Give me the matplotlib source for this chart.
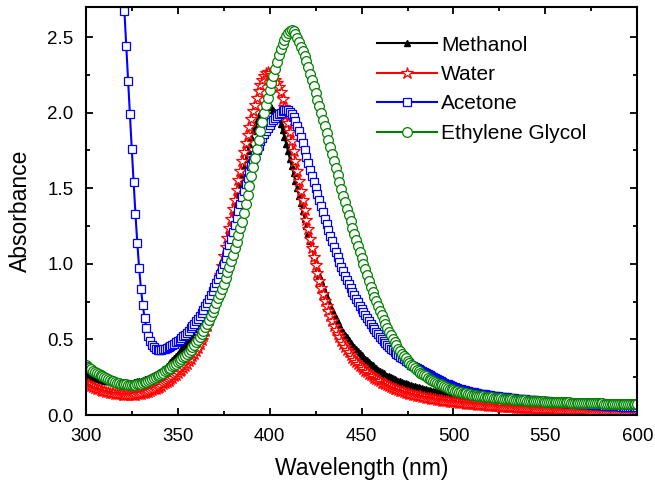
import matplotlib
matplotlib.use("Agg")
import matplotlib.pyplot as plt
from matplotlib.ticker import MultipleLocator
import numpy as np

plt.rcParams['font.family'] = ['Liberation Sans', 'DejaVu Sans']

# wavelength grid (nm), 1 nm steps
wl = np.arange(300, 601)
wl_acetone = np.arange(320, 601)

methanol = [
    0.265, 0.260, 0.256, 0.251, 0.247, 0.243, 0.240, 0.237, 0.234, 0.231,
    0.228, 0.226, 0.224, 0.222, 0.220, 0.218, 0.217, 0.216, 0.215, 0.214,
    0.213, 0.213, 0.213, 0.213, 0.214, 0.215, 0.217, 0.219, 0.222, 0.225,
    0.228, 0.232, 0.236, 0.240, 0.245, 0.250, 0.256, 0.262, 0.269, 0.277,
    0.285, 0.294, 0.303, 0.313, 0.324, 0.335, 0.348, 0.361, 0.375, 0.390,
    0.405, 0.421, 0.437, 0.454, 0.472, 0.490, 0.509, 0.528, 0.548, 0.569,
    0.590, 0.612, 0.635, 0.659, 0.684, 0.710, 0.737, 0.765, 0.795, 0.827,
    0.860, 0.899, 0.939, 0.981, 1.025, 1.070, 1.118, 1.167, 1.217, 1.268,
    1.320, 1.373, 1.427, 1.481, 1.535, 1.590, 1.643, 1.695, 1.745, 1.794,
    1.840, 1.880, 1.915, 1.948, 1.973, 1.995, 2.014, 2.030, 2.040, 2.045,
    2.043, 2.035, 2.021, 2.003, 1.985, 1.965, 1.928, 1.885, 1.840, 1.793,
    1.745, 1.696, 1.647, 1.598, 1.549, 1.500, 1.450, 1.400, 1.350, 1.300,
    1.250, 1.202, 1.154, 1.106, 1.058, 1.010, 0.967, 0.926, 0.887, 0.850,
    0.815, 0.783, 0.752, 0.722, 0.693, 0.665, 0.640, 0.616, 0.593, 0.571,
    0.550, 0.531, 0.513, 0.495, 0.478, 0.462, 0.448, 0.434, 0.421, 0.408,
    0.395, 0.383, 0.372, 0.361, 0.350, 0.340, 0.329, 0.319, 0.309, 0.299,
    0.290, 0.282, 0.275, 0.268, 0.261, 0.255, 0.249, 0.244, 0.238, 0.233,
    0.228, 0.223, 0.219, 0.214, 0.210, 0.205, 0.201, 0.197, 0.193, 0.190,
    0.186, 0.183, 0.180, 0.176, 0.173, 0.170, 0.167, 0.165, 0.162, 0.160,
    0.157, 0.155, 0.152, 0.150, 0.147, 0.145, 0.143, 0.141, 0.139, 0.137,
    0.135, 0.133, 0.131, 0.130, 0.128, 0.126, 0.124, 0.123, 0.121, 0.120,
    0.118, 0.117, 0.115, 0.114, 0.112, 0.111, 0.110, 0.108, 0.107, 0.105,
    0.104, 0.103, 0.102, 0.100, 0.099, 0.098, 0.097, 0.096, 0.095, 0.094,
    0.093, 0.092, 0.091, 0.090, 0.089, 0.088, 0.087, 0.086, 0.086, 0.085,
    0.084, 0.083, 0.082, 0.082, 0.081, 0.080, 0.079, 0.079, 0.078, 0.077,
    0.076, 0.076, 0.075, 0.074, 0.074, 0.073, 0.072, 0.072, 0.071, 0.071,
    0.070, 0.069, 0.069, 0.068, 0.068, 0.067, 0.067, 0.066, 0.066, 0.065,
    0.065, 0.064, 0.064, 0.063, 0.063, 0.062, 0.062, 0.061, 0.061, 0.060,
    0.060, 0.060, 0.059, 0.059, 0.058, 0.058, 0.058, 0.057, 0.057, 0.056,
    0.056, 0.056, 0.056, 0.055, 0.055, 0.055, 0.054, 0.054, 0.054, 0.053,
    0.053,
]

water = [
    0.210, 0.203, 0.197, 0.191, 0.185, 0.180, 0.175, 0.170, 0.166, 0.162,
    0.158, 0.155, 0.152, 0.149, 0.146, 0.143, 0.141, 0.139, 0.137, 0.136,
    0.135, 0.134, 0.133, 0.133, 0.133, 0.133, 0.134, 0.135, 0.136, 0.138,
    0.140, 0.143, 0.146, 0.150, 0.154, 0.158, 0.163, 0.169, 0.175, 0.181,
    0.188, 0.195, 0.203, 0.211, 0.219, 0.228, 0.237, 0.247, 0.257, 0.267,
    0.278, 0.289, 0.301, 0.313, 0.326, 0.340, 0.355, 0.371, 0.388, 0.406,
    0.425, 0.446, 0.469, 0.494, 0.523, 0.555, 0.591, 0.630, 0.671, 0.714,
    0.760, 0.814, 0.870, 0.928, 0.988, 1.050, 1.112, 1.174, 1.236, 1.298,
    1.360, 1.424, 1.488, 1.552, 1.616, 1.680, 1.740, 1.798, 1.854, 1.908,
    1.960, 2.008, 2.053, 2.100, 2.142, 2.180, 2.215, 2.245, 2.262, 2.268,
    2.262, 2.250, 2.235, 2.218, 2.198, 2.170, 2.135, 2.090, 2.040, 1.985,
    1.930, 1.870, 1.810, 1.745, 1.680, 1.615, 1.550, 1.485, 1.420, 1.355,
    1.290, 1.228, 1.167, 1.107, 1.048, 0.990, 0.938, 0.889, 0.842, 0.798,
    0.757, 0.720, 0.685, 0.652, 0.620, 0.590, 0.564, 0.538, 0.514, 0.491,
    0.470, 0.451, 0.432, 0.414, 0.397, 0.380, 0.366, 0.352, 0.339, 0.327,
    0.315, 0.305, 0.294, 0.284, 0.274, 0.265, 0.256, 0.247, 0.238, 0.230,
    0.222, 0.215, 0.209, 0.202, 0.196, 0.190, 0.185, 0.180, 0.175, 0.170,
    0.165, 0.161, 0.157, 0.153, 0.149, 0.145, 0.142, 0.138, 0.135, 0.131,
    0.128, 0.125, 0.123, 0.120, 0.118, 0.115, 0.113, 0.111, 0.108, 0.106,
    0.104, 0.102, 0.100, 0.098, 0.096, 0.094, 0.092, 0.091, 0.089, 0.088,
    0.086, 0.085, 0.083, 0.082, 0.080, 0.079, 0.078, 0.076, 0.075, 0.074,
    0.072, 0.071, 0.070, 0.069, 0.068, 0.067, 0.066, 0.065, 0.064, 0.062,
    0.061, 0.060, 0.059, 0.058, 0.058, 0.057, 0.056, 0.055, 0.054, 0.053,
    0.052, 0.051, 0.051, 0.050, 0.049, 0.049, 0.048, 0.047, 0.047, 0.046,
    0.045, 0.045, 0.044, 0.044, 0.043, 0.042, 0.042, 0.041, 0.041, 0.040,
    0.039, 0.039, 0.038, 0.038, 0.037, 0.037, 0.036, 0.036, 0.035, 0.035,
    0.034, 0.034, 0.033, 0.033, 0.033, 0.032, 0.032, 0.031, 0.031, 0.031,
    0.030, 0.030, 0.030, 0.029, 0.029, 0.029, 0.028, 0.028, 0.028, 0.027,
    0.027, 0.027, 0.027, 0.026, 0.026, 0.026, 0.026, 0.026, 0.025, 0.025,
    0.025, 0.025, 0.024, 0.024, 0.024, 0.024, 0.024, 0.023, 0.023, 0.023,
    0.023,
]

acetone = [
    2.900, 2.670, 2.440, 2.210, 1.990, 1.760, 1.540, 1.330, 1.140, 0.975,
    0.835, 0.725, 0.640, 0.575, 0.525, 0.490, 0.465, 0.448, 0.438, 0.433,
    0.432, 0.433, 0.436, 0.440, 0.445, 0.451, 0.458, 0.465, 0.473, 0.481,
    0.490, 0.499, 0.509, 0.520, 0.532, 0.545, 0.559, 0.573, 0.588, 0.604,
    0.620, 0.638, 0.656, 0.676, 0.697, 0.720, 0.743, 0.767, 0.792, 0.818,
    0.845, 0.874, 0.903, 0.934, 0.966, 1.000, 1.040, 1.081, 1.123, 1.166,
    1.210, 1.256, 1.302, 1.348, 1.394, 1.440, 1.484, 1.527, 1.569, 1.610,
    1.650, 1.686, 1.720, 1.752, 1.782, 1.810, 1.835, 1.859, 1.881, 1.901,
    1.920, 1.937, 1.952, 1.966, 1.979, 1.990, 2.001, 2.011, 2.018, 2.020,
    2.015, 2.005, 1.990, 1.970, 1.945, 1.915, 1.880, 1.840, 1.797, 1.754,
    1.710, 1.667, 1.624, 1.582, 1.541, 1.500, 1.460, 1.420, 1.380, 1.340,
    1.300, 1.262, 1.224, 1.186, 1.148, 1.110, 1.076, 1.043, 1.011, 0.980,
    0.950, 0.922, 0.895, 0.868, 0.841, 0.815, 0.791, 0.768, 0.745, 0.722,
    0.700, 0.679, 0.659, 0.639, 0.619, 0.600, 0.583, 0.566, 0.550, 0.534,
    0.518, 0.504, 0.490, 0.476, 0.463, 0.450, 0.439, 0.428, 0.417, 0.406,
    0.395, 0.386, 0.377, 0.368, 0.359, 0.350, 0.342, 0.334, 0.326, 0.318,
    0.310, 0.303, 0.296, 0.289, 0.282, 0.275, 0.269, 0.262, 0.256, 0.249,
    0.243, 0.237, 0.230, 0.224, 0.218, 0.212, 0.207, 0.202, 0.197, 0.192,
    0.187, 0.183, 0.179, 0.175, 0.172, 0.168, 0.165, 0.162, 0.158, 0.155,
    0.152, 0.150, 0.147, 0.145, 0.142, 0.140, 0.138, 0.136, 0.134, 0.132,
    0.130, 0.128, 0.127, 0.125, 0.124, 0.122, 0.121, 0.119, 0.118, 0.116,
    0.115, 0.114, 0.112, 0.111, 0.109, 0.108, 0.107, 0.106, 0.104, 0.103,
    0.102, 0.101, 0.100, 0.099, 0.098, 0.097, 0.096, 0.095, 0.094, 0.093,
    0.092, 0.091, 0.090, 0.089, 0.088, 0.087, 0.086, 0.085, 0.084, 0.083,
    0.082, 0.081, 0.080, 0.080, 0.079, 0.078, 0.077, 0.076, 0.076, 0.075,
    0.074, 0.073, 0.072, 0.071, 0.070, 0.069, 0.068, 0.067, 0.067, 0.066,
    0.065, 0.064, 0.063, 0.063, 0.062, 0.061, 0.060, 0.059, 0.059, 0.058,
    0.057, 0.056, 0.055, 0.055, 0.054, 0.053, 0.052, 0.052, 0.051, 0.050,
    0.050,
]

ethylene_glycol = [
    0.330, 0.320, 0.311, 0.302, 0.293, 0.285, 0.277, 0.270, 0.263, 0.256,
    0.250, 0.244, 0.238, 0.232, 0.227, 0.222, 0.218, 0.214, 0.211, 0.208,
    0.205, 0.203, 0.202, 0.201, 0.200, 0.200, 0.200, 0.201, 0.203, 0.205,
    0.208, 0.212, 0.216, 0.221, 0.227, 0.233, 0.239, 0.245, 0.251, 0.258,
    0.265, 0.272, 0.280, 0.288, 0.296, 0.305, 0.313, 0.322, 0.331, 0.340,
    0.350, 0.360, 0.370, 0.381, 0.393, 0.405, 0.418, 0.432, 0.447, 0.463,
    0.480, 0.498, 0.517, 0.537, 0.558, 0.580, 0.604, 0.629, 0.655, 0.682,
    0.710, 0.740, 0.771, 0.803, 0.836, 0.870, 0.906, 0.943, 0.981, 1.020,
    1.060, 1.102, 1.145, 1.189, 1.234, 1.280, 1.335, 1.395, 1.455, 1.518,
    1.580, 1.640, 1.700, 1.760, 1.820, 1.880, 1.938, 1.995, 2.050, 2.100,
    2.150, 2.198, 2.245, 2.290, 2.335, 2.380, 2.418, 2.452, 2.483, 2.510,
    2.530, 2.542, 2.545, 2.538, 2.520, 2.495, 2.466, 2.436, 2.405, 2.373,
    2.340, 2.300, 2.259, 2.217, 2.174, 2.130, 2.086, 2.042, 1.998, 1.954,
    1.910, 1.864, 1.818, 1.772, 1.726, 1.680, 1.634, 1.588, 1.542, 1.496,
    1.450, 1.408, 1.366, 1.324, 1.282, 1.240, 1.200, 1.160, 1.120, 1.080,
    1.040, 1.002, 0.964, 0.926, 0.888, 0.850, 0.817, 0.784, 0.752, 0.721,
    0.690, 0.660, 0.631, 0.603, 0.576, 0.550, 0.527, 0.504, 0.482, 0.461,
    0.440, 0.422, 0.405, 0.389, 0.374, 0.360, 0.347, 0.334, 0.322, 0.311,
    0.300, 0.290, 0.281, 0.272, 0.263, 0.255, 0.248, 0.241, 0.234, 0.227,
    0.220, 0.214, 0.208, 0.202, 0.196, 0.190, 0.185, 0.180, 0.175, 0.170,
    0.165, 0.161, 0.158, 0.154, 0.151, 0.148, 0.145, 0.143, 0.140, 0.138,
    0.135, 0.133, 0.131, 0.129, 0.127, 0.125, 0.123, 0.122, 0.120, 0.119,
    0.117, 0.116, 0.115, 0.113, 0.112, 0.111, 0.110, 0.109, 0.107, 0.106,
    0.105, 0.104, 0.103, 0.102, 0.101, 0.100, 0.099, 0.098, 0.098, 0.097,
    0.096, 0.095, 0.094, 0.094, 0.093, 0.092, 0.092, 0.091, 0.090, 0.090,
    0.089, 0.088, 0.088, 0.087, 0.087, 0.086, 0.086, 0.085, 0.085, 0.084,
    0.084, 0.084, 0.083, 0.083, 0.082, 0.082, 0.082, 0.081, 0.081, 0.080,
    0.080, 0.080, 0.079, 0.079, 0.079, 0.078, 0.078, 0.078, 0.077, 0.077,
    0.077, 0.077, 0.076, 0.076, 0.076, 0.076, 0.076, 0.075, 0.075, 0.075,
    0.075, 0.075, 0.074, 0.074, 0.074, 0.074, 0.074, 0.074, 0.073, 0.073,
    0.073,
]

fig = plt.figure(figsize=(6.55, 4.9), dpi=100)
ax = fig.add_axes([0.131, 0.153, 0.842, 0.833])

ax.plot(wl, methanol, color='black', lw=1.5, marker='^', ms=4.5,
        mfc='black', mec='black', label='Methanol')
ax.plot(wl, water, color='red', lw=1.5, marker='*', ms=9,
        mfc='white', mec='red', mew=0.9, label='Water')
ax.plot(wl_acetone, acetone, color='blue', lw=1.5, marker='s', ms=6.3,
        mfc='white', mec='blue', mew=0.9, label='Acetone')
ax.plot(wl, ethylene_glycol, color='green', lw=1.5, marker='o', ms=7,
        mfc='white', mec='green', mew=0.9, label='Ethylene Glycol')

ax.set_xlim(300, 600)
ax.set_ylim(0, 2.7)
ax.xaxis.set_major_locator(MultipleLocator(50))
ax.xaxis.set_minor_locator(MultipleLocator(25))
ax.yaxis.set_major_locator(MultipleLocator(0.5))
ax.yaxis.set_minor_locator(MultipleLocator(0.25))
ax.tick_params(which='both', direction='in', top=True, right=True,
               labelsize=13.5, width=1.3)
ax.tick_params(which='major', length=5)
ax.tick_params(which='minor', length=3)
ax.tick_params(axis='x', which='major', pad=9)
ax.tick_params(axis='y', which='major', pad=9)
for s in ax.spines.values():
    s.set_linewidth(1.5)

ax.set_xlabel('Wavelength (nm)', fontsize=16.5, labelpad=9)
ax.set_ylabel('Absorbance', fontsize=16.5, labelpad=11)

ax.legend(loc='upper left', bbox_to_anchor=(0.512, 0.95), frameon=False,
          fontsize=15, handlelength=2.9, labelspacing=0.5, handletextpad=0.2,
          borderaxespad=0, markerscale=1.0)

fig.savefig('out.png', dpi=100)
